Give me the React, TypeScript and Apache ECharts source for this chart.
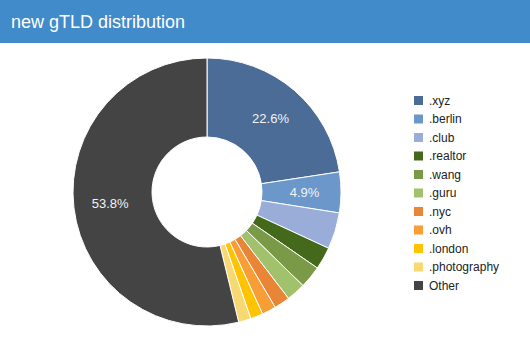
import React, { useEffect, useRef } from "react";
import * as echarts from "echarts";

const titleText = "new gTLD distribution";
const categories = [".xyz", ".berlin", ".club", ".realtor", ".wang", ".guru", ".nyc", ".ovh", ".london", ".photography", "Other"];
const shares = [22.6, 4.9, 4.4, 2.7, 2.7, 2.3, 1.9, 1.7, 1.5, 1.5, 53.8];
const sliceColors = ["#4A6C97", "#6B97CA", "#99ADD8", "#45691A", "#7B9A47", "#A2C16C", "#E98536", "#F99D37", "#FEC404", "#F8D971", "#444444"];
const minLabelShare = 4.5;

export default function App() {
  const ref = useRef<HTMLDivElement>(null);
  useEffect(() => {
    document.body.style.margin = "0";
    const chart = echarts.init(ref.current!, undefined, { renderer: "svg" });
    const font = "Arial, 'Liberation Sans', sans-serif";
    chart.setOption({
      animation: false,
      color: sliceColors,
      graphic: [
        { type: "rect", left: 0, top: 0, shape: { width: 530, height: 43 }, style: { fill: "#428BCA" }, silent: true },
        { type: "text", left: 11, top: 13, style: { text: titleText, fill: "#ffffff", font: `18px ${font}` }, silent: true },
      ],
      legend: {
        orient: "vertical",
        left: 412,
        top: 94,
        padding: 0,
        itemWidth: 11,
        itemHeight: 11,
        itemGap: 5.5,
        icon: "rect",
        textStyle: { fontSize: 12, lineHeight: 13, color: "#222222", fontFamily: font },
        data: categories,
      },
      series: [
        {
          type: "pie",
          center: [207, 192],
          radius: [55, 134],
          startAngle: 90,
          clockwise: true,
          avoidLabelOverlap: false,
          itemStyle: { borderColor: "#ffffff", borderWidth: 1 },
          label: {
            show: true,
            position: "inside",
            color: "#f2f2f2",
            fontSize: 13,
            fontFamily: font,
            formatter: (p: any) => (p.value >= minLabelShare ? p.value.toFixed(1) + "%" : ""),
          },
          labelLine: { show: false },
          emphasis: { disabled: true },
          data: categories.map((name, i) => ({ name, value: shares[i] })),
        },
      ],
    });
    return () => chart.dispose();
  }, []);
  return <div ref={ref} style={{ width: 530, height: 353 }} />;
}
